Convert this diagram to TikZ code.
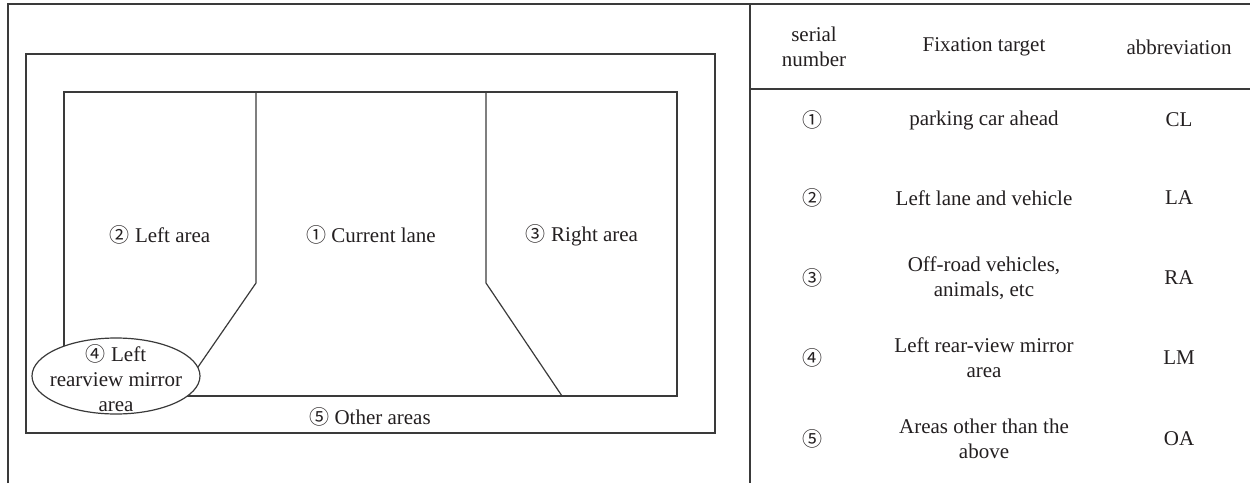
\documentclass[tikz,border=0pt]{standalone}
\usepackage{fontspec}
\setmainfont{Liberation Serif}
\newfontfamily\circfont{Noto Sans CJK SC}
% circled numerals
\newcommand{\cnum}[1]{{\circfont\fontsize{10}{10}\selectfont #1}}
\definecolor{ink}{HTML}{231F20}
\definecolor{rule}{HTML}{3A3A3A}
\begin{document}
\begin{tikzpicture}[x=0.5pt,y=-0.5pt,
  frame/.style={draw=rule,line width=0.8pt},
  thin/.style={draw=rule,line width=0.6pt},
  lbl/.style={font=\fontsize{10.5}{12.5}\selectfont,text=ink,inner sep=0pt,align=center}]
\useasboundingbox (0,0) rectangle (1250,483);

% outer page frame and table rules
\coordinate (tl) at (8,4);
\coordinate (tr) at (1250,4);
\coordinate (bl) at (8,483);
\coordinate (dt) at (750,4);
\coordinate (db) at (750,483);
\coordinate (hl) at (750,89);
\coordinate (hr) at (1250,89);
\draw[frame] (bl) -- (tl) -- (tr);
\draw[frame] (dt) -- (db);
\draw[frame] (hl) -- (hr);

% scene frame
\draw[thin] (26,54) rectangle (715,433);

% road field
\coordinate (ia) at (64,92);
\coordinate (ib) at (677,92);
\coordinate (ic) at (677,396);
\coordinate (id) at (64,396);
\draw[thin] (ia) -- (ib) -- (ic) -- (id) -- cycle;
% lane dividers
\coordinate (la) at (256,92);
\coordinate (lb) at (256,283);
\coordinate (lc) at (178,396);
\coordinate (ra) at (486,92);
\coordinate (rb) at (486,283);
\coordinate (rc) at (562,396);
\draw[thin] (la) -- (lb) -- (lc);
\draw[thin] (ra) -- (rb) -- (rc);

% mirror area
\draw[thin,fill=white] (116,376) ellipse [x radius=84, y radius=38];
\node[lbl] (mirror) at (116,378) {\cnum{④} Left\\rearview mirror\\area};

\node[lbl] (left)    at (160,235) {\cnum{②} Left area};
\node[lbl] (current) at (371,235) {\cnum{①} Current lane};
\node[lbl] (right)   at (582,235) {\cnum{③} Right area};
\node[lbl] (other)   at (370,417) {\cnum{⑤} Other areas};

% table
\node[lbl] (h1) at (814,47) {serial\\number};
\node[lbl] (h2) at (984,47) {Fixation target};
\node[lbl] (h3) at (1179,47) {abbreviation};

\node[lbl] (n1) at (812,120) {\cnum{①}};
\node[lbl] (t1) at (984,120) {parking car ahead};
\node[lbl] (a1) at (1179,120) {CL};

\node[lbl] (n2) at (812,198) {\cnum{②}};
\node[lbl] (t2) at (984,198) {Left lane and vehicle};
\node[lbl] (a2) at (1179,198) {LA};

\node[lbl] (n3) at (812,278) {\cnum{③}};
\node[lbl] (t3) at (984,278) {Off-road vehicles,\\animals, etc};
\node[lbl] (a3) at (1179,278) {RA};

\node[lbl] (n4) at (812,358) {\cnum{④}};
\node[lbl] (t4) at (984,358) {Left rear-view mirror\\area};
\node[lbl] (a4) at (1179,358) {LM};

\node[lbl] (n5) at (812,439) {\cnum{⑤}};
\node[lbl] (t5) at (984,439) {Areas other than the\\above};
\node[lbl] (a5) at (1179,439) {OA};
\end{tikzpicture}
\end{document}
